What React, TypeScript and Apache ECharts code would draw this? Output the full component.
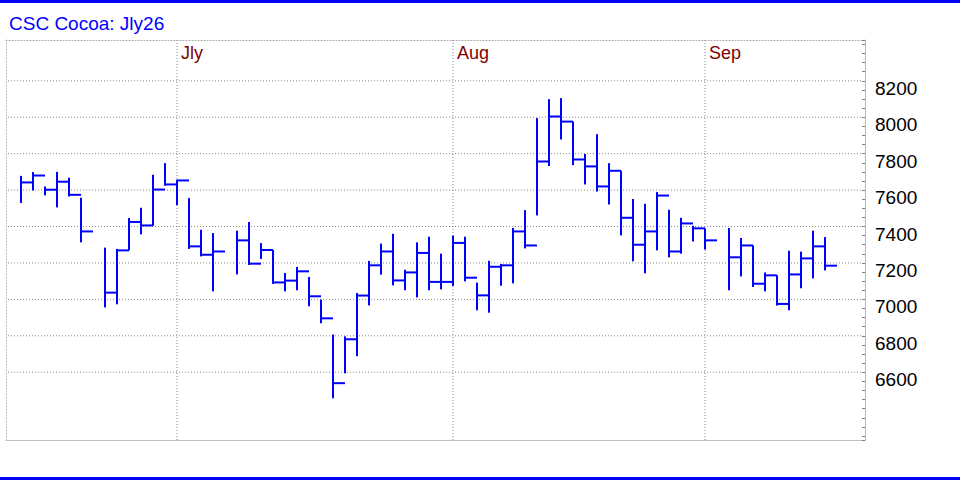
import React, { useEffect, useRef } from "react";
import * as echarts from "echarts";

// Daily bars (slot index along the time axis); null = no trading in that slot
const highs: (number | null)[] = [
  7678, 7699, 7620, 7700, 7668, 7558, null, 7284, 7277, 7447, 7503, 7684, 7748, 7657, 7556, 7382, 7364, null,
  7377, 7425, 7309, 7271, 7145, 7178, 7123, 6999, 6807, 6797, 7035, 7211, 7306, 7360, 7163, 7313, 7344, 7251,
  7350, 7344, 7092, 7212, 7194, 7392, 7490, 7995, 8099, 8105, 7976, 7798, 7907, 7748, 7706, 7551, 7525, 7589,
  7492, 7448, 7404, 7390, null, 7392, 7337, 7296, 7148, 7132, 7267, 7262, 7377, 7342,
];
const lows: (number | null)[] = [
  7529, 7598, 7571, 7505, 7565, 7313, null, 6956, 6973, 7269, 7357, 7404, 7624, 7517, 7277, 7236, 7044, null,
  7137, 7189, 7222, 7085, 7044, 7050, 6962, 6869, 6457, 6594, 6688, 6967, 7136, 7077, 7050, 7011, 7050, 7055,
  7074, 7099, 6940, 6927, 7075, 7088, 7280, 7461, 7732, 7878, 7737, 7631, 7592, 7521, 7351, 7209, 7143, 7269,
  7231, 7251, 7318, 7274, null, 7050, 7126, 7068, 7044, 6966, 6940, 7061, 7115, 7159,
];
const closes: (number | null)[] = [
  7642, 7680, 7602, 7646, 7574, 7373, null, 7037, 7269, 7425, 7406, 7603, 7631, 7653, 7291, 7245, 7263, null,
  7324, 7196, 7271, 7093, 7103, 7154, 7017, 6896, 6540, 6781, 7021, 7187, 7263, 7104, 7148, 7255, 7096, 7096,
  7310, 7119, 7022, 7179, 7187, 7373, 7296, 7757, 8004, 7976, 7768, 7730, 7620, 7706, 7448, 7300, 7373, 7570,
  7263, 7417, 7390, 7324, null, 7231, 7296, 7086, 7132, 6975, 7137, 7225, 7291, 7185,
];

// Month boundaries (slot index of the first bar of each month) and their labels
const monthSlots = [13, 36, 57];
const monthNames = ["Jly", "Aug", "Sep"];

// Price axis tick labels
const yLabels = [6600, 6800, 7000, 7200, 7400, 7600, 7800, 8000, 8200];

const title = "CSC Cocoa: Jly26";
const yMin = 6228;
const yMax = 8424;
const xMin = -1.25;
const xMax = 70.333;

const FONT = "'Liberation Sans', Arial, sans-serif";
const BLUE = "#0000ff";

export default function App() {
  const ref = useRef<HTMLDivElement>(null);

  useEffect(() => {
    if (!ref.current) return;
    const chart = echarts.init(ref.current, null, { renderer: "svg" });

    const barData: number[][] = [];
    highs.forEach((h, i) => {
      if (h == null || lows[i] == null || closes[i] == null) return;
      barData.push([i, h as number, lows[i] as number, closes[i] as number]);
    });

    const option: any = {
      animation: false,
      backgroundColor: "#ffffff",
      title: {
        text: title,
        left: 4,
        top: 9,
        textStyle: { color: BLUE, fontSize: 19, fontWeight: "normal", fontFamily: FONT },
      },
      graphic: [
        { type: "rect", left: 0, top: 0, shape: { width: 960, height: 3 }, style: { fill: BLUE } },
        { type: "rect", left: 0, top: 477, shape: { width: 960, height: 3 }, style: { fill: BLUE } },
      ],
      grid: { left: 6, right: 95, top: 40, bottom: 40, show: false },
      xAxis: [
        {
          type: "value",
          min: xMin,
          max: xMax,
          position: "bottom",
          axisLine: { show: true, onZero: false, lineStyle: { color: "#c0c0c0", width: 1 } },
          axisTick: { show: false },
          axisLabel: { show: false },
          splitLine: { show: false },
        },
        {
          type: "value",
          min: xMin,
          max: xMax,
          position: "top",
          axisLine: { show: true, onZero: false, lineStyle: { color: "#a8a8a8", width: 1, type: [1, 2] } },
          axisTick: { show: false },
          axisLabel: { show: false },
          splitLine: { show: false },
        },
      ],
      yAxis: [
        {
          type: "value",
          position: "right",
          min: yMin,
          max: yMax,
          splitNumber: 10,
          axisLine: { show: true, onZero: false, lineStyle: { color: "#b8b8b8", width: 1 } },
          axisTick: { show: true, inside: true, length: 3, lineStyle: { color: "#808080" } },
          minorTick: { show: true, splitNumber: 4, length: 3, lineStyle: { color: "#808080" } },
          axisLabel: {
            show: true,
            showMinLabel: false,
            showMaxLabel: false,
            margin: 10,
            color: "#000000",
            fontSize: 19,
            fontFamily: FONT,
            verticalAlign: "top",
            lineHeight: 15,
            formatter: (v: number) => (yLabels.indexOf(Math.round(v)) >= 0 ? String(Math.round(v)) : ""),
          },
          splitLine: { show: false },
        },
        {
          type: "value",
          position: "left",
          min: yMin,
          max: yMax,
          axisLine: { show: true, onZero: false, lineStyle: { color: "#b8b8b8", width: 1, type: [1, 2] } },
          axisTick: { show: false },
          axisLabel: { show: false },
          splitLine: { show: false },
        },
      ],
      series: [
        {
          type: "custom",
          name: "priceGrid",
          xAxisIndex: 0,
          yAxisIndex: 0,
          data: yLabels.map((v) => [v]),
          encode: { y: 0 },
          silent: true,
          z: 1,
          renderItem: (params: any, api: any) => {
            const cs = params.coordSys;
            const py = api.coord([0, api.value(0)])[1];
            return {
              type: "line",
              shape: { x1: cs.x + 2, y1: py, x2: cs.x + cs.width - 2, y2: py },
              style: { stroke: "#888888", lineWidth: 1, lineDash: [1, 2] },
            };
          },
        },
        {
          type: "custom",
          name: "months",
          xAxisIndex: 0,
          yAxisIndex: 0,
          data: monthSlots.map((s) => [s]),
          encode: { x: 0 },
          silent: true,
          z: 1,
          renderItem: (params: any, api: any) => {
            const cs = params.coordSys;
            const px = api.coord([api.value(0), yMin])[0];
            return {
              type: "group",
              children: [
                {
                  type: "line",
                  shape: { x1: px, y1: cs.y, x2: px, y2: cs.y + cs.height },
                  style: { stroke: "#888888", lineWidth: 1, lineDash: [1, 2] },
                },
                {
                  type: "text",
                  x: px + 4,
                  y: cs.y + 13,
                  style: {
                    text: monthNames[params.dataIndex],
                    fill: "#800000",
                    fontSize: 18,
                    fontFamily: FONT,
                    verticalAlign: "middle",
                    align: "left",
                  },
                },
              ],
            };
          },
        },
        {
          type: "custom",
          name: "CSC Cocoa",
          xAxisIndex: 0,
          yAxisIndex: 0,
          data: barData,
          encode: { x: 0, y: [1, 2, 3] },
          z: 5,
          renderItem: (params: any, api: any) => {
            const x = api.value(0);
            const top = api.coord([x, api.value(1)]);
            const bot = api.coord([x, api.value(2)]);
            const cl = api.coord([x, api.value(3)]);
            const w = api.size([1, 0])[0];
            const st = { stroke: BLUE, lineWidth: 2 };
            return {
              type: "group",
              children: [
                { type: "line", shape: { x1: top[0], y1: top[1], x2: bot[0], y2: bot[1] }, style: st },
                { type: "line", shape: { x1: cl[0], y1: cl[1], x2: cl[0] + w, y2: cl[1] }, style: st },
              ],
            };
          },
        },
      ],
    };

    chart.setOption(option);
    return () => chart.dispose();
  }, []);

  return (
    <div
      ref={ref}
      style={{ position: "fixed", left: 0, top: 0, width: 960, height: 480, background: "#fff" }}
    />
  );
}
